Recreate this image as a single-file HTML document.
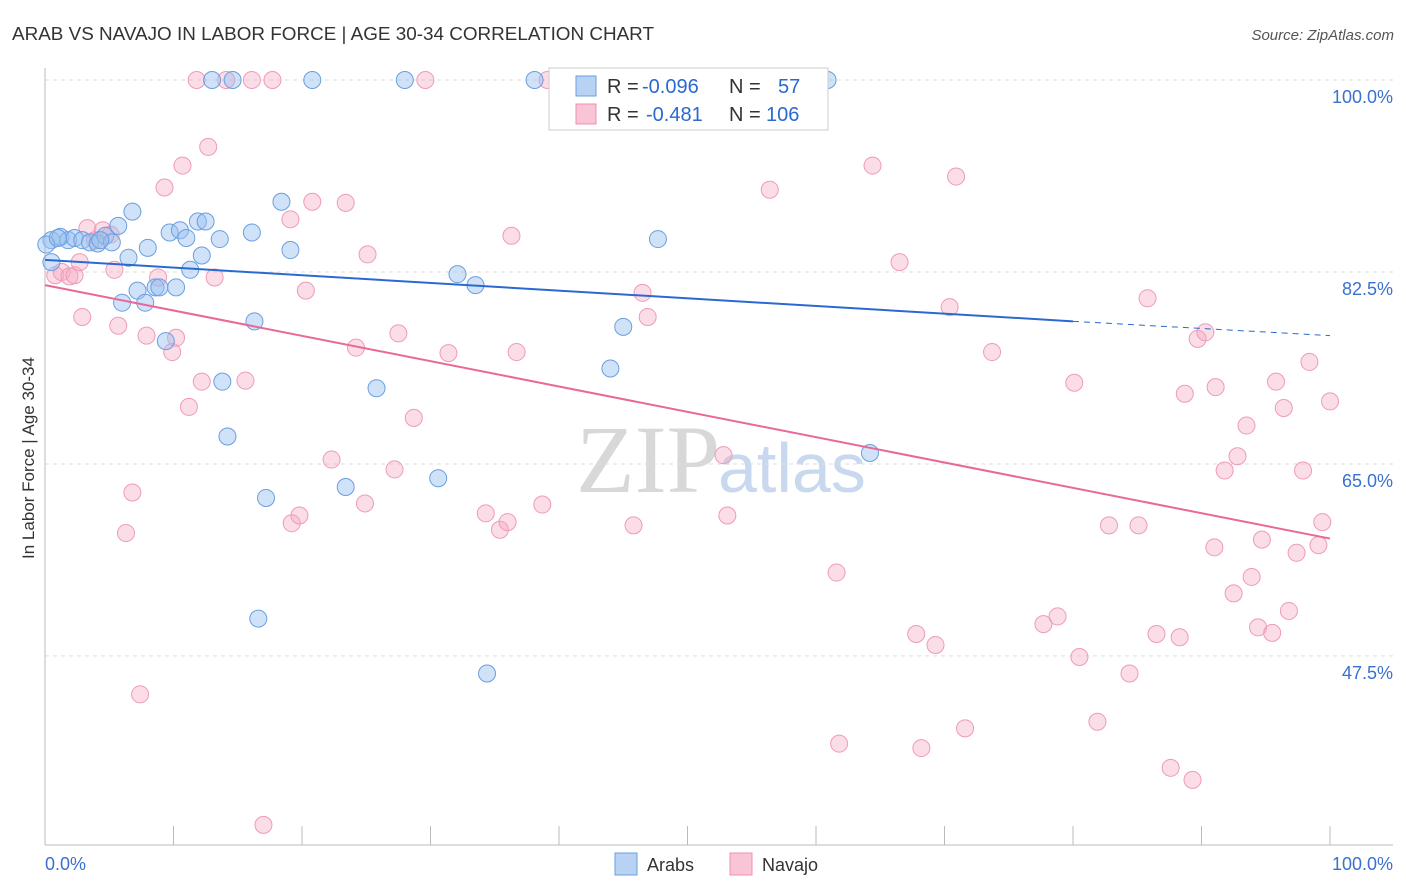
<!DOCTYPE html>
<html><head><meta charset="utf-8"><style>
body{margin:0;background:#fff;font-family:"Liberation Sans",sans-serif;}
#wrap{position:relative;width:1406px;height:892px;overflow:hidden;}
</style></head><body>
<div id="wrap">
<svg id="svg" width="1406" height="892" xmlns="http://www.w3.org/2000/svg">
<text x="12" y="40" font-size="18" fill="#333" textLength="642" lengthAdjust="spacingAndGlyphs">ARAB VS NAVAJO IN LABOR FORCE | AGE 30-34 CORRELATION CHART</text>
<text x="1394" y="40" font-size="15" fill="#555" font-style="italic" text-anchor="end">Source: ZipAtlas.com</text>
<text x="34" y="458" font-size="17" fill="#333" text-anchor="middle" transform="rotate(-90 34 458)">In Labor Force | Age 30-34</text>
<text x="720" y="492" font-size="96" fill="#d8d8d8" text-anchor="end" font-family="Liberation Serif">ZIP</text>
<text x="718" y="492" font-size="70" fill="#c8d8ee">atlas</text>
<g id="grid"></g><g id="pts"></g><g id="trend"></g>
<g>
<rect x="549" y="68" width="279" height="62" fill="#fff" stroke="#ccc"/>
<rect x="576" y="76" width="20" height="20" fill="#b8d2f4" stroke="#6a9fe0"/>
<rect x="576" y="104" width="20" height="20" fill="#f9c4d6" stroke="#f090b0"/>
<text x="607" y="93" font-size="20" fill="#333">R =</text>
<text x="642" y="93" font-size="20" fill="#2a6ad0">-0.096</text>
<text x="729" y="93" font-size="20" fill="#333">N =</text>
<text x="778" y="93" font-size="20" fill="#2a6ad0">57</text>
<text x="607" y="121" font-size="20" fill="#333">R =</text>
<text x="646" y="121" font-size="20" fill="#2a6ad0">-0.481</text>
<text x="729" y="121" font-size="20" fill="#333">N =</text>
<text x="766" y="121" font-size="20" fill="#2a6ad0">106</text>
</g>
<g>
<rect x="615" y="853" width="22" height="22" fill="#b8d2f4" stroke="#6a9fe0"/>
<text x="647" y="871" font-size="18" fill="#333">Arabs</text>
<rect x="730" y="853" width="22" height="22" fill="#f9c4d6" stroke="#f090b0"/>
<text x="762" y="871" font-size="18" fill="#333">Navajo</text>
</g>
</svg></div>
<script>
const yTicks=[100,82.5,65,47.5];
const yTickLabels=["100.0%","82.5%","65.0%","47.5%"];
const arabX=[0.5,1.2,1.8,2.3,2.9,3.5,4.1,4.7,5.2,5.7,6.8,6.5,6.0,7.2,7.8,8.0,8.6,8.9,9.4,9.7,10.2,10.5,11.0,11.3,11.9,12.2,12.5,13.0,13.6,13.8,14.2,14.6,16.1,16.3,17.2,16.6,18.4,19.1,20.8,23.4,25.8,28.0,30.6,32.1,33.5,34.4,38.1,44.0,45.0,47.1,47.7,60.9,64.2,0.5,0.1,4.3,1.0];
const arabY=[85.4,85.7,85.4,85.6,85.4,85.2,85.1,85.8,85.2,86.7,88.0,83.8,79.7,80.8,79.7,84.7,81.1,81.1,76.2,86.1,81.1,86.3,85.6,82.7,87.1,84.0,87.1,100,85.5,72.5,67.5,100,86.1,78.0,61.9,50.9,88.9,84.5,100,62.9,71.9,100,63.7,82.3,81.3,45.9,100,73.7,77.5,100,85.5,100,66.0,83.4,85.0,85.4,85.6];
const navX=[0.8,1.3,1.9,2.3,2.9,3.3,3.9,4.5,5.1,5.4,5.7,6.3,6.8,7.4,7.9,8.8,9.3,9.9,10.2,10.7,11.2,11.8,12.2,12.7,13.2,14.1,15.6,16.1,17.0,17.7,19.1,19.2,19.8,20.3,20.8,22.3,23.4,24.2,24.9,25.1,27.2,27.5,28.7,29.6,31.4,34.3,35.4,36.0,36.3,36.7,38.7,39.1,40.7,45.8,46.5,46.9,52.8,53.1,56.4,61.6,61.8,64.4,66.5,67.8,68.2,69.3,70.4,70.9,71.6,73.7,77.7,78.8,80.1,80.5,81.9,82.8,84.4,85.1,85.8,86.5,87.6,88.3,88.7,89.3,89.7,90.3,91.0,91.1,91.8,92.5,92.8,93.5,93.9,94.4,94.7,95.5,95.8,96.4,96.8,97.4,97.9,98.4,99.1,99.4,100,2.7];
const navY=[82.2,82.5,82.1,82.2,78.4,86.5,85.4,86.3,85.9,82.7,77.6,58.7,62.4,44.0,76.7,82.0,90.2,75.2,76.5,92.2,70.2,100,72.5,93.9,82.0,100,72.6,100,32.1,100,87.3,59.6,60.3,80.8,88.9,65.4,88.8,75.6,61.4,84.1,64.5,76.9,69.2,100,75.1,60.5,59.0,59.7,85.8,75.2,61.3,100,100,59.4,80.6,78.4,65.8,60.3,90.0,55.1,39.5,92.2,83.4,49.5,39.1,48.5,79.3,91.2,40.9,75.2,50.4,51.1,72.4,47.4,41.5,59.4,45.9,59.4,80.1,49.5,37.3,49.2,71.4,36.2,76.4,77.0,57.4,72.0,64.4,53.2,65.7,68.5,54.7,50.1,58.1,49.6,72.5,70.1,51.6,56.9,64.4,74.3,57.6,59.7,70.7,83.4];
const arabTrend=[83.6,78.0,76.7]; // at x=0, 80 (solid end), 100
const navTrend=[81.3,58.2]; // at x=0, 100
const X=v=>45+v*12.85, Y=v=>80+(100-v)*10.97;
const NS="http://www.w3.org/2000/svg";
function mk(tag,attrs,parent){const e=document.createElementNS(NS,tag);for(const k in attrs)e.setAttribute(k,attrs[k]);parent.appendChild(e);return e;}
const grid=document.getElementById('grid'),pts=document.getElementById('pts'),tr=document.getElementById('trend');
yTicks.forEach((t,i)=>{
 const l=mk('line',{x1:45,x2:1393,y1:Y(t),y2:Y(t),stroke:'#ddd','stroke-dasharray':'4,4'},grid);
 
 
 const tx=mk('text',{x:1393,y:Y(t)+23,'font-size':18,fill:'#3a70d0','text-anchor':'end'},grid);
 tx.textContent=yTickLabels[i];
 
 
});
const ax=mk('line',{x1:45,x2:45,y1:68,y2:845,stroke:'#bbb'},grid);


const bx=mk('line',{x1:45,x2:1393,y1:845,y2:845,stroke:'#bbb'},grid);


for(let i=1;i<=10;i++){const t=mk('line',{x1:X(i*10),x2:X(i*10),y1:826,y2:845,stroke:'#bbb'},grid);
 
 }
const xl0=mk('text',{x:45,y:870,'font-size':18,fill:'#3a70d0'},grid);xl0.textContent='0.0%';


const xl1=mk('text',{x:1393,y:870,'font-size':18,fill:'#3a70d0','text-anchor':'end'},grid);xl1.textContent='100.0%';


navX.forEach((x,i)=>{const c=mk('circle',{cx:X(x),cy:Y(navY[i]),r:8.5,fill:'rgba(246,170,196,0.4)',stroke:'#f09ab8','stroke-width':1},pts);
 
 });
arabX.forEach((x,i)=>{const c=mk('circle',{cx:X(x),cy:Y(arabY[i]),r:8.5,fill:'rgba(150,190,240,0.45)',stroke:'#6a9fe0','stroke-width':1},pts);
 
 });
const t1=mk('line',{x1:X(0),y1:Y(arabTrend[0]),x2:X(80),y2:Y(arabTrend[1]),stroke:'#2a6ad0','stroke-width':2},tr);


const t2=mk('line',{x1:X(80),y1:Y(arabTrend[1]),x2:X(100),y2:Y(arabTrend[2]),stroke:'#2a6ad0','stroke-width':1,'stroke-dasharray':'6,5'},tr);


const t3=mk('line',{x1:X(0),y1:Y(navTrend[0]),x2:X(100),y2:Y(navTrend[1]),stroke:'#e8689a','stroke-width':2},tr);


</script>
</body></html>
